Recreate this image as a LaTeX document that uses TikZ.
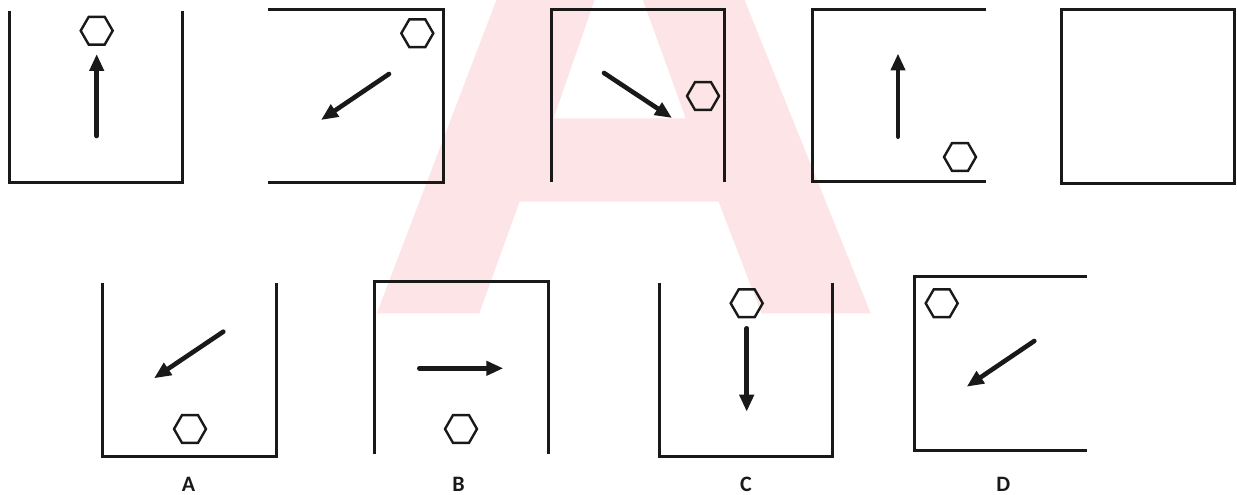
\documentclass[tikz,border=0pt]{standalone}
\usepackage{fontspec}
\setsansfont{Carlito}
\usetikzlibrary{arrows.meta,shapes.geometric}
\definecolor{markpink}{RGB}{252,228,231}
\begin{document}
\begin{tikzpicture}[x=1pt,y=-1pt,
    frame/.style={line width=3pt,draw=black!90},
    move/.style={line width=4.6pt,draw=black!90,line cap=round,-{Triangle[length=17pt,width=14pt]}},
    hexa/.style={draw=black!90,line width=2.4pt,regular polygon,regular polygon sides=6,minimum size=32pt,inner sep=0pt},
    choice/.style={font=\sffamily\bfseries\fontsize{22}{22}\selectfont,text=black!90,inner sep=0pt}]
      \useasboundingbox (0,0) rectangle (1237,495);
      %watermark
      \fill[markpink,even odd rule] (376.8,313.3) -- (496.4,0) -- (744.6,0) -- (870.7,313.3)
          -- (761.4,313.3) -- (718.6,201.7) -- (519.6,201.7) -- (479.3,313.3) -- cycle
          (553.6,118.3) -- (594.6,0) -- (642.9,0) -- (685.7,118.3) -- cycle;

      %top row
      \draw[frame] (9.3,10.7) -- (9.3,182.3) -- (182.3,182.3) -- (182.3,10.7);
      \node[hexa] (h1) at (96.7,30.7) {};
      \draw[move] (96.7,136) -- (96.7,54);

      \draw[frame] (268.3,10) -- (443.3,10) -- (443.3,182.7) -- (268.3,182.7);
      \node[hexa] (h2) at (417.3,33.3) {};
      \draw[move] (389,74) -- (321,120);

      \draw[frame] (551,182) -- (551,10) -- (724,10) -- (724,182);
      \node[hexa] (h3) at (703,96) {};
      \draw[move] (604,73) -- (672,118);

      \draw[frame] (986,10) -- (812.5,10) -- (812.5,181.7) -- (986,181.7);
      \node[hexa] (h4) at (960,157) {};
      \draw[move] (898,136.7) -- (898,53.5);

      \draw[frame] (1061,10) rectangle (1234.2,183.3);

      %answers
      \draw[frame] (102.7,282.7) -- (102.7,456) -- (276,456) -- (276,282.7);
      \node[hexa] (hA) at (190,429) {};
      \draw[move] (223.3,331.7) -- (154,378.3);

      \draw[frame] (374,454) -- (374,281.7) -- (548.3,281.7) -- (548.3,454);
      \node[hexa] (hB) at (461,429) {};
      \draw[move] (419.3,368.3) -- (503.3,368.3);

      \draw[frame] (659.3,282.7) -- (659.3,456) -- (832.3,456) -- (832.3,282.7);
      \node[hexa] (hC) at (746.7,303.3) {};
      \draw[move] (746.7,328.3) -- (746.7,411.7);

      \draw[frame] (1086.7,276.7) -- (914,276.7) -- (914,450.7) -- (1086.7,450.7);
      \node[hexa] (hD) at (941.7,303.3) {};
      \draw[move] (1034.3,341) -- (966.7,386.7);

      \foreach \x/\t in {188.5/A,458.5/B,746/C,1003.3/D}
          \node[choice] (lab\t) at (\x,484) {\t};
\end{tikzpicture}
\end{document}
